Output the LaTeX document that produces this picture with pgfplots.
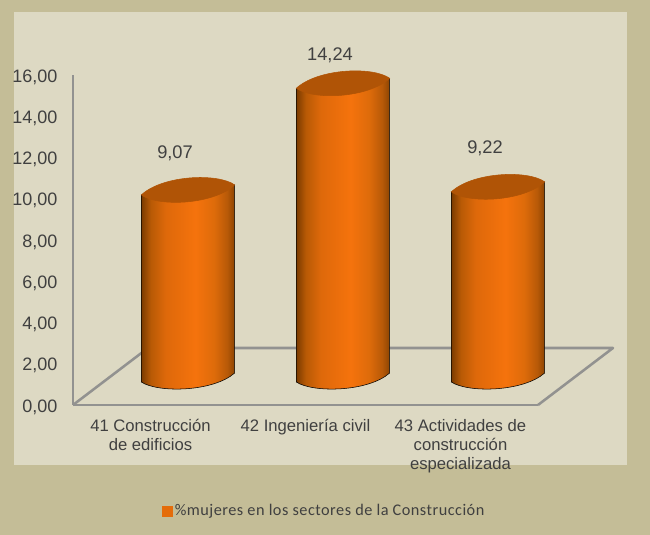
\documentclass[border=0pt]{standalone}
\usepackage{pgfplots}
\pgfplotsset{compat=1.18}
\usepackage{pgfplotstable}
\usepackage{fontspec}
\setmainfont{Liberation Sans}
\newfontfamily\legfont[LetterSpace=3]{Carlito}

\definecolor{outerbg}{HTML}{C4BD97}
\definecolor{innerbg}{HTML}{DDD9C3}
\definecolor{axisgrey}{HTML}{929290}
\definecolor{txt}{HTML}{404040}
\definecolor{lid}{HTML}{B05406}
\definecolor{legsq}{HTML}{E46C0A}

\pgfdeclarehorizontalshading{cyl}{100bp}{
  rgb(0bp)=(0.48,0.23,0);
  rgb(25bp)=(0.48,0.23,0);
  rgb(30bp)=(0.72,0.35,0.02);
  rgb(38bp)=(0.87,0.41,0.04);
  rgb(54bp)=(0.96,0.45,0.05);
  rgb(64bp)=(0.87,0.42,0.04);
  rgb(71bp)=(0.72,0.35,0.03);
  rgb(75bp)=(0.55,0.27,0.01);
  rgb(100bp)=(0.55,0.27,0.01)}

% cylinder hanging from the data point, 20.625 px per unit,
% set back by (37.5,28) px for the depth of the floor
\pgfdeclareplotmark{cyl}{%
  \pgfmathsetmacro\h{\val*20.625}%
  \begin{scope}[x=0.75pt,y=0.75pt]
    \shade[shading=cyl]
      (-9.2,23) -- (-9.2,23-\h)
      .. controls (7.5,12-\h) and (62.5,13-\h) .. (84.2,32-\h)
      -- (84.2,33) -- cycle;
    \fill[lid] (-9.2,23)
      .. controls (7.5,11) and (62.5,13) .. (84.2,33)
      .. controls (67.5,45) and (12.5,43) .. cycle;
  \end{scope}%
}

% value, extra lift of the label in px
\pgfplotstableread{
x  y     dy
0  9.07  65
1  14.24 56
2  9.22  67
}\mujeres

\begin{document}
\begin{tikzpicture}[x=0.75pt,y=0.75pt]
% panels, picture is laid out in reference pixels (y up)
\fill[outerbg] (0,0) rectangle (650,535);
\fill[innerbg] (14,70) rectangle (627,523);
% floor
\draw[axisgrey,line width=1.9pt,line join=round] (73,130) -- (148,187) -- (613,187) -- (538,130);
\begin{axis}[
    at={(54.75pt,97.5pt)},
    anchor=south west,
    scale only axis,
    width=348.75pt,
    height=247.5pt,
    xmin=-0.5, xmax=2.5,
    ymin=0, ymax=16,
    ytick={0,2,...,16},
    xtick={0,1,2},
    xticklabels={41 Construcción\\de edificios,42 Ingeniería civil,43 Actividades de\\construcción\\especializada},
    clip=false,
    axis x line=bottom,
    axis y line=left,
    axis line style={axisgrey,line width=1.9pt,-},
    major tick length=0pt,
    x tick label style={align=center,font=\fontsize{12.5}{14}\selectfont,text=txt,yshift=-7.5pt},
    y tick label style={font=\fontsize{13.5}{15}\selectfont,text=txt,xshift=-8.2pt,yshift=-1.5pt},
    yticklabel style={/pgf/number format/.cd,fixed,fixed zerofill,precision=2,use comma,assume math mode=true},
    legend style={at={(0.19,-0.321)},anchor=west,draw=none,fill=none,inner sep=0pt,
      font=\legfont\fontsize{12.2}{15}\selectfont,text=txt},
    legend image code/.code={\fill[legsq] (0pt,-3.7pt) rectangle (7.5pt,3.7pt);},
]
\addplot[
    scatter,
    only marks,
    mark=cyl,
    visualization depends on={rawy \as \val},
    visualization depends on={\thisrow{dy} \as \dy},
    scatter/@pre marker code/.code={\begin{scope}},
    scatter/@post marker code/.code={\end{scope}},
    point meta=y,
    nodes near coords={\pgfmathprintnumber[fixed,fixed zerofill,precision=2,use comma,assume math mode=true]{\pgfplotspointmeta}},
    every node near coord/.append style={anchor=center,xshift=18.4pt,yshift=\dy*0.75pt,
      font=\fontsize{13.7}{15}\selectfont,text=txt},
] table[x=x,y=y] {\mujeres};
\addlegendentry{\%mujeres en los sectores de la Construcción}
\end{axis}
\end{tikzpicture}
\end{document}
